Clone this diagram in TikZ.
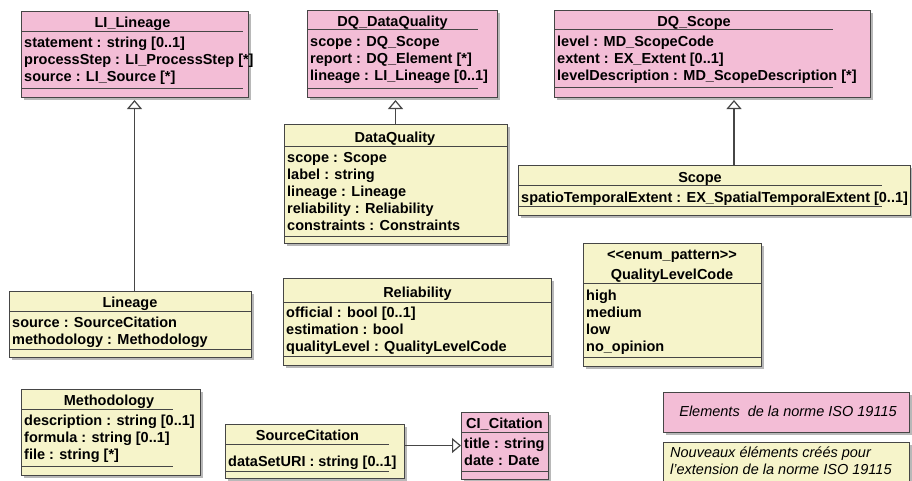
\documentclass[tikz,border=0pt]{standalone}
\usepackage{fontspec}
\setmainfont{Liberation Sans}
\usetikzlibrary{arrows.meta,shadows,calc}
\definecolor{pinkfill}{RGB}{243,189,214}
\definecolor{yellowfill}{RGB}{246,244,202}
\definecolor{edgec}{RGB}{70,70,70}
\tikzset{
  umlshape/.style={draw=edgec, line width=0.9pt, inner sep=0pt, outer sep=0pt, anchor=north west,
    drop shadow={shadow xshift=2.5pt, shadow yshift=-2.5pt, fill=black!55}},
  pinkbox/.style={umlshape, fill=pinkfill},
  yellowbox/.style={umlshape, fill=yellowfill},
  sepline/.style={draw=edgec, line width=0.9pt},
  ttl/.style={font=\bfseries\fontsize{14.5}{17}\selectfont, inner sep=0pt, anchor=base},
  attr/.style={font=\bfseries\fontsize{14.5}{17}\selectfont, inner sep=0pt, anchor=base west},
  legendtext/.style={font=\itshape\fontsize{14.5}{17}\selectfont, inner sep=0pt},
  gen/.style={draw=edgec, line width=1.3pt,
    -{Triangle[width=15pt, length=9pt, fill=white, line width=1.2pt]}},
}
\newcommand\umlbox[6]{\node[#2, minimum width={#5-#3}, minimum height={#6-#4}] (#1) at (#3,#4) {};}
\newcommand\attrs[4]{\foreach \t [count=\i] in {#4} {\node[attr] (#1-a\i) at (#2, {#3+17.2*(\i-1)}) {\t};}}
\begin{document}
\begin{tikzpicture}[x=1pt, y=-1pt]
\fill[white] (0,0) rectangle (912,480);
\useasboundingbox (0,0) rectangle (912,480);

% LI_Lineage
\umlbox{lil}{pinkbox}{21}{11}{248}{97}
\node[ttl] (lil-t) at (132.5,27) {LI\_Lineage};
\draw[sepline] (21,31) -- (243,31);
\attrs{lil}{24}{47}{statement : string [0..1],processStep : LI\_ProcessStep [*],source : LI\_Source [*]}
\draw[sepline] (21,88) -- (243,88);

% DQ_DataQuality
\umlbox{dqdq}{pinkbox}{307}{10}{497}{97}
\node[ttl] (dqdq-t) at (392.5,26) {DQ\_DataQuality};
\draw[sepline] (307,29.5) -- (478,29.5);
\attrs{dqdq}{310}{46}{scope : DQ\_Scope,report : DQ\_Element [*],lineage : LI\_Lineage [0..1]}
\draw[sepline] (307,88) -- (478,88);

% DQ_Scope
\umlbox{dqs}{pinkbox}{554}{10}{870}{97}
\node[ttl] (dqs-t) at (694,26) {DQ\_Scope};
\draw[sepline] (554,29.5) -- (833,29.5);
\attrs{dqs}{557}{46}{level : MD\_ScopeCode,extent : EX\_Extent [0..1],levelDescription : MD\_ScopeDescription [*]}
\draw[sepline] (554,87) -- (833,87);

% DataQuality
\umlbox{dq}{yellowbox}{284}{124}{507}{243}
\node[ttl] (dq-t) at (395,142) {DataQuality};
\draw[sepline] (284,146.5) -- (507,146.5);
\attrs{dq}{287}{162}{scope : Scope,label : string,lineage : Lineage,reliability : Reliability,constraints : Constraints}
\draw[sepline] (284,236) -- (507,236);

% Scope
\umlbox{scope}{yellowbox}{518}{165}{910}{215}
\node[ttl] (scope-t) at (700,182) {Scope};
\draw[sepline] (518,185.5) -- (882,185.5);
\attrs{scope}{521}{202}{spatioTemporalExtent : EX\_SpatialTemporalExtent [0..1]}
\draw[sepline] (518,206) -- (882,206);

% Lineage
\umlbox{lin}{yellowbox}{9}{291}{251}{357}
\node[ttl] (lin-t) at (130,307) {Lineage};
\draw[sepline] (9,311.5) -- (251,311.5);
\attrs{lin}{12}{327}{source : SourceCitation,methodology : Methodology}
\draw[sepline] (9,349) -- (251,349);

% Reliability
\umlbox{rel}{yellowbox}{283}{278}{551}{365}
\node[ttl] (rel-t) at (417.5,297) {Reliability};
\draw[sepline] (283,302) -- (551,302);
\attrs{rel}{286}{317}{official : bool [0..1],estimation : bool,qualityLevel : QualityLevelCode}
\draw[sepline] (283,356) -- (551,356);

% QualityLevelCode
\umlbox{qlc}{yellowbox}{583}{243}{761}{366}
\node[ttl] (qlc-s) at (672,259) {<{}<enum\_pattern>{}>};
\node[ttl] (qlc-t) at (672,279) {QualityLevelCode};
\draw[sepline] (583,283.5) -- (761,283.5);
\attrs{qlc}{586}{300}{high,medium,low,no\_opinion}
\draw[sepline] (583,357) -- (761,357);

% Methodology
\umlbox{meth}{yellowbox}{21}{389}{200}{475}
\node[ttl] (meth-t) at (109,405) {Methodology};
\draw[sepline] (21,409) -- (173,409);
\attrs{meth}{24}{425}{description : string [0..1],formula : string [0..1],file : string [*]}
\draw[sepline] (21,466) -- (173,466);

% SourceCitation
\umlbox{srcc}{yellowbox}{225}{424}{404}{478}
\node[ttl] (srcc-t) at (307.5,440) {SourceCitation};
\draw[sepline] (225,444) -- (389,444);
\attrs{srcc}{228}{466}{dataSetURI : string [0..1]}
\draw[sepline] (225,471.5) -- (389,471.5);

% CI_Citation
\umlbox{cic}{pinkbox}{461}{412}{548}{479}
\node[ttl] (cic-t) at (504.5,428) {CI\_Citation};
\draw[sepline] (461,432) -- (548,432);
\attrs{cic}{464}{448}{title : string,date : Date}
\draw[sepline] (461,471) -- (548,471);

% Legend
\umlbox{leg1}{pinkbox}{663}{392}{909}{432}
\node[legendtext, anchor=base] (leg1-t) at (788,416) {Elements\ \ de la norme ISO 19115};
\umlbox{leg2}{yellowbox}{663}{442}{909}{490}
\node[legendtext, anchor=base west] (leg2-a) at (670,457) {Nouveaux éléments créés pour};
\node[legendtext, anchor=base west] (leg2-b) at (670,474) {l'extension de la norme ISO 19115};

% Generalizations
\draw[gen] (lin.north -| lil.south) -- ($(lil.south)+(0,3)$);
\draw[gen] (dq.north) -- ($(dqdq.south -| dq.north)+(0,3)$);
\draw[gen] ($(scope.north)+(20,0)$) -- ($(scope.north |- dqs.south)+(20,3)$);
\draw[gen] (srcc.east |- cic.west) -- (cic.west);
\end{tikzpicture}
\end{document}
